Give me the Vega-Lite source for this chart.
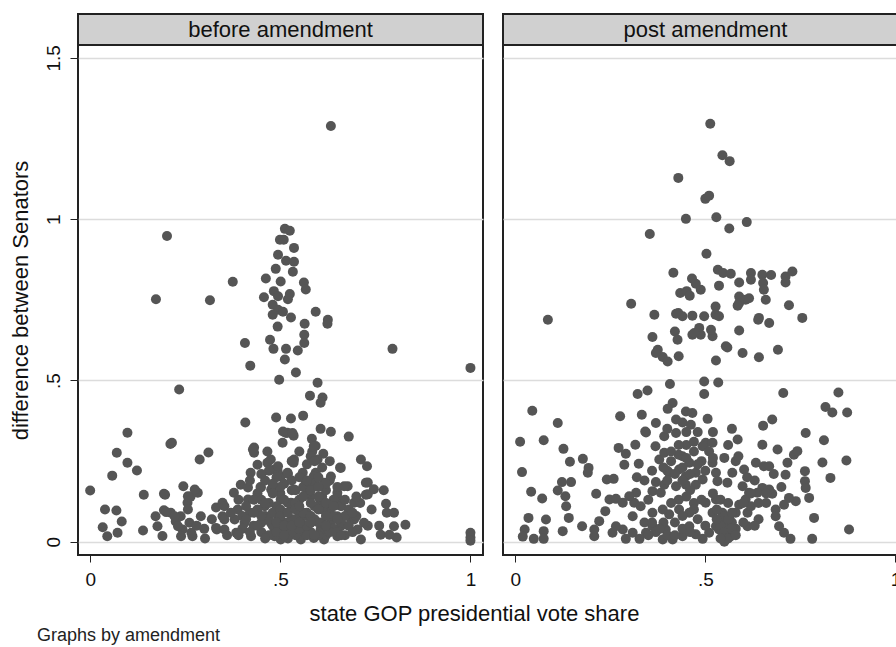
{
"$schema": "https://vega.github.io/schema/vega-lite/v6.json",
"background": "white",
"padding": {"left": 8, "top": 13, "right": 0, "bottom": 0},
"config": {"font": "Liberation Sans", "view": {"stroke": "#222", "strokeWidth": 2}, "concat": {"spacing": 18}},
"title": {"text": "Graphs by amendment", "orient": "bottom", "anchor": "start", "frame": "bounds", "fontSize": 18, "fontWeight": "normal", "font": "Liberation Sans", "color": "#222", "offset": 2, "dx": 29},
"datasets": {
"before": [
{"share":0.633,"diff":1.289},{"share":0.202,"diff":0.948},{"share":0.512,"diff":0.970},{"share":0.525,"diff":0.964},{"share":0.499,"diff":0.936},{"share":0.509,"diff":0.936},{"share":0.536,"diff":0.911},{"share":0.494,"diff":0.890},{"share":0.515,"diff":0.871},{"share":0.536,"diff":0.868},{"share":0.488,"diff":0.846},{"share":0.533,"diff":0.837},{"share":0.462,"diff":0.816},{"share":0.501,"diff":0.807},{"share":0.562,"diff":0.804},{"share":0.567,"diff":0.782},{"share":0.375,"diff":0.806},{"share":0.173,"diff":0.752},{"share":0.315,"diff":0.749},{"share":0.457,"diff":0.758},{"share":0.483,"diff":0.777},{"share":0.494,"diff":0.761},{"share":0.525,"diff":0.768},{"share":0.520,"diff":0.752},{"share":0.593,"diff":0.713},{"share":0.625,"diff":0.688},{"share":0.480,"diff":0.735},{"share":0.494,"diff":0.719},{"share":0.480,"diff":0.704},{"share":0.507,"diff":0.713},{"share":0.528,"diff":0.695},{"share":0.493,"diff":0.667},{"share":0.564,"diff":0.676},{"share":0.624,"diff":0.676},{"share":0.563,"diff":0.642},{"share":0.563,"diff":0.616},{"share":0.473,"diff":0.626},{"share":0.407,"diff":0.616},{"share":0.482,"diff":0.598},{"share":0.515,"diff":0.598},{"share":0.546,"diff":0.593},{"share":0.512,"diff":0.565},{"share":0.421,"diff":0.546},{"share":0.541,"diff":0.525},{"share":0.497,"diff":0.502},{"share":0.795,"diff":0.598},{"share":1.0,"diff":0.539},{"share":0.234,"diff":0.472},{"share":0.598,"diff":0.493},{"share":0.578,"diff":0.453},{"share":0.611,"diff":0.447},{"share":0.606,"diff":0.431},{"share":0.408,"diff":0.370},{"share":0.489,"diff":0.385},{"share":0.528,"diff":0.382},{"share":0.560,"diff":0.391},{"share":0.098,"diff":0.338},{"share":0.215,"diff":0.307},{"share":0.211,"diff":0.303},{"share":0.680,"diff":0.326},{"share":0.606,"diff":0.350},{"share":0.633,"diff":0.341},{"share":0.506,"diff":0.307},{"share":0.519,"diff":0.338},{"share":0.535,"diff":0.329},{"share":0.583,"diff":0.319},{"share":0.593,"diff":0.297},{"share":0.584,"diff":0.280},{"share":0.613,"diff":0.273},{"share":0.070,"diff":0.276},{"share":0.288,"diff":0.255},{"share":0.311,"diff":0.277},{"share":0.431,"diff":0.292},{"share":0.431,"diff":0.276},{"share":0.466,"diff":0.280},{"share":0.098,"diff":0.245},{"share":0.123,"diff":0.221},{"share":0.058,"diff":0.205},{"share":0.0,"diff":0.159},{"share":0.141,"diff":0.146},{"share":0.194,"diff":0.149},{"share":0.245,"diff":0.172},{"share":0.264,"diff":0.140},{"share":0.283,"diff":0.152},{"share":0.039,"diff":0.100},{"share":0.069,"diff":0.097},{"share":0.083,"diff":0.063},{"share":0.033,"diff":0.045},{"share":0.045,"diff":0.017},{"share":0.072,"diff":0.028},{"share":0.139,"diff":0.035},{"share":0.172,"diff":0.079},{"share":0.177,"diff":0.048},{"share":0.194,"diff":0.098},{"share":0.190,"diff":0.018},{"share":0.212,"diff":0.090},{"share":0.225,"diff":0.063},{"share":0.238,"diff":0.079},{"share":0.243,"diff":0.038},{"share":0.256,"diff":0.121},{"share":0.269,"diff":0.017},{"share":0.291,"diff":0.079},{"share":0.302,"diff":0.010},{"share":0.331,"diff":0.106},{"share":0.333,"diff":0.038},{"share":0.348,"diff":0.121},{"share":0.348,"diff":0.079},{"share":0.378,"diff":0.152},{"share":0.396,"diff":0.177},{"share":0.415,"diff":0.168},{"share":0.422,"diff":0.214},{"share":0.449,"diff":0.168},{"share":0.440,"diff":0.239},{"share":0.466,"diff":0.245},{"share":0.483,"diff":0.224},{"share":0.501,"diff":0.202},{"share":0.519,"diff":0.214},{"share":0.535,"diff":0.245},{"share":0.559,"diff":0.214},{"share":0.567,"diff":0.186},{"share":0.593,"diff":0.214},{"share":0.633,"diff":0.202},{"share":0.657,"diff":0.230},{"share":0.712,"diff":0.255},{"share":0.728,"diff":0.234},{"share":0.730,"diff":0.184},{"share":0.730,"diff":0.147},{"share":0.746,"diff":0.163},{"share":0.772,"diff":0.160},{"share":0.694,"diff":0.121},{"share":0.778,"diff":0.118},{"share":0.780,"diff":0.090},{"share":0.799,"diff":0.090},{"share":0.829,"diff":0.053},{"share":0.799,"diff":0.048},{"share":0.764,"diff":0.022},{"share":0.806,"diff":0.013},{"share":0.787,"diff":0.022},{"share":1.0,"diff":0.028},{"share":1.0,"diff":0.013},{"share":1.0,"diff":0.003},{"share":0.677,"diff":0.172},{"share":0.655,"diff":0.131},{"share":0.686,"diff":0.069},{"share":0.703,"diff":0.038},{"share":0.712,"diff":0.007},{"share":0.730,"diff":0.050},
{"share":0.515,"diff":0.337},{"share":0.532,"diff":0.337},{"share":0.588,"diff":0.296},{"share":0.580,"diff":0.265},{"share":0.598,"diff":0.255},{"share":0.475,"diff":0.255},{"share":0.536,"diff":0.255},{"share":0.659,"diff":0.229},{"share":0.493,"diff":0.219},{"share":0.588,"diff":0.203},{"share":0.615,"diff":0.183},{"share":0.668,"diff":0.172},{"share":0.725,"diff":0.183},{"share":0.725,"diff":0.146},{"share":0.484,"diff":0.172},{"share":0.536,"diff":0.162},{"share":0.563,"diff":0.172},{"share":0.650,"diff":0.152},{"share":0.580,"diff":0.141},{"share":0.606,"diff":0.121},{"share":0.650,"diff":0.115},{"share":0.694,"diff":0.069},{"share":0.720,"diff":0.059},{"share":0.659,"diff":0.048},{"share":0.633,"diff":0.059},{"share":0.606,"diff":0.038},{"share":0.580,"diff":0.059},{"share":0.563,"diff":0.079},{"share":0.545,"diff":0.100},{"share":0.528,"diff":0.121},{"share":0.501,"diff":0.131},{"share":0.493,"diff":0.090},{"share":0.510,"diff":0.059},{"share":0.536,"diff":0.038},{"share":0.484,"diff":0.028},{"share":0.501,"diff":0.007},{"share":0.554,"diff":0.007},{"share":0.588,"diff":0.012},{"share":0.615,"diff":0.007},{"share":0.650,"diff":0.017},{"share":0.563,"diff":0.028},{"share":0.475,"diff":0.059},{"share":0.650,"diff":0.079},{"share":0.628,"diff":0.100},
{"share":0.197,"diff":0.146},{"share":0.275,"diff":0.162},{"share":0.257,"diff":0.141},{"share":0.200,"diff":0.092},{"share":0.222,"diff":0.079},{"share":0.231,"diff":0.048},{"share":0.239,"diff":0.017},{"share":0.257,"diff":0.100},{"share":0.261,"diff":0.059},{"share":0.266,"diff":0.028},{"share":0.331,"diff":0.043},{"share":0.353,"diff":0.110},{"share":0.353,"diff":0.069},{"share":0.353,"diff":0.038},{"share":0.388,"diff":0.100},{"share":0.380,"diff":0.069},{"share":0.384,"diff":0.028},{"share":0.406,"diff":0.059},{"share":0.415,"diff":0.131},{"share":0.428,"diff":0.286},{"share":0.448,"diff":0.170},{"share":0.507,"diff":0.342},{"share":0.494,"diff":0.234},{"share":0.423,"diff":0.017},{"share":0.450,"diff":0.059},{"share":0.459,"diff":0.110},{"share":0.476,"diff":0.162},{"share":0.494,"diff":0.079},{"share":0.485,"diff":0.017},{"share":0.511,"diff":0.038},
{"share":0.44,"diff":0.10},{"share":0.46,"diff":0.08},{"share":0.47,"diff":0.12},{"share":0.48,"diff":0.05},{"share":0.49,"diff":0.11},{"share":0.50,"diff":0.15},{"share":0.51,"diff":0.09},{"share":0.52,"diff":0.06},{"share":0.53,"diff":0.11},{"share":0.54,"diff":0.02},{"share":0.55,"diff":0.13},{"share":0.56,"diff":0.05},{"share":0.57,"diff":0.09},{"share":0.58,"diff":0.03},{"share":0.59,"diff":0.11},{"share":0.60,"diff":0.06},{"share":0.61,"diff":0.14},{"share":0.62,"diff":0.02},{"share":0.63,"diff":0.09},{"share":0.64,"diff":0.04},{"share":0.66,"diff":0.11},{"share":0.67,"diff":0.02},{"share":0.45,"diff":0.03},{"share":0.47,"diff":0.02},{"share":0.52,"diff":0.01},{"share":0.55,"diff":0.08},{"share":0.57,"diff":0.15},{"share":0.51,"diff":0.18},{"share":0.53,"diff":0.16},{"share":0.48,"diff":0.15},{"share":0.46,"diff":0.19},{"share":0.44,"diff":0.15},{"share":0.42,"diff":0.09},{"share":0.40,"diff":0.04},{"share":0.41,"diff":0.11},{"share":0.43,"diff":0.05},{"share":0.50,"diff":0.04},{"share":0.52,"diff":0.12},{"share":0.54,"diff":0.07},{"share":0.56,"diff":0.17},{"share":0.58,"diff":0.12},{"share":0.60,"diff":0.20},{"share":0.62,"diff":0.16},{"share":0.64,"diff":0.13},{"share":0.66,"diff":0.06},{"share":0.68,"diff":0.10},{"share":0.70,"diff":0.08},{"share":0.49,"diff":0.20},{"share":0.55,"diff":0.20},{"share":0.59,"diff":0.18},{"share":0.61,"diff":0.10},{"share":0.63,"diff":0.19},{"share":0.65,"diff":0.17},{"share":0.57,"diff":0.24},{"share":0.53,"diff":0.25},{"share":0.61,"diff":0.23},{"share":0.63,"diff":0.25},{"share":0.45,"diff":0.13},{"share":0.43,"diff":0.13},{"share":0.47,"diff":0.07},{"share":0.49,"diff":0.03},{"share":0.51,"diff":0.13},{"share":0.53,"diff":0.03},{"share":0.55,"diff":0.04},{"share":0.57,"diff":0.02},{"share":0.59,"diff":0.07},{"share":0.60,"diff":0.02},{"share":0.62,"diff":0.12},{"share":0.64,"diff":0.08},{"share":0.65,"diff":0.03},{"share":0.67,"diff":0.08},{"share":0.69,"diff":0.03},{"share":0.71,"diff":0.12},{"share":0.36,"diff":0.02},{"share":0.37,"diff":0.09},{"share":0.39,"diff":0.13},{"share":0.32,"diff":0.07},{"share":0.30,"diff":0.04},{"share":0.28,"diff":0.05},{"share":0.70,"diff":0.14},{"share":0.74,"diff":0.10},{"share":0.76,"diff":0.05},{"share":0.52,"diff":0.21},{"share":0.47,"diff":0.22},{"share":0.58,"diff":0.18},{"share":0.55,"diff":0.28},{"share":0.59,"diff":0.25},{"share":0.45,"diff":0.21},{"share":0.42,"diff":0.19},
{"share":0.46,"diff":0.01},{"share":0.48,"diff":0.09},{"share":0.50,"diff":0.10},{"share":0.51,"diff":0.02},{"share":0.53,"diff":0.07},{"share":0.54,"diff":0.12},{"share":0.56,"diff":0.09},{"share":0.57,"diff":0.05},{"share":0.58,"diff":0.08},{"share":0.59,"diff":0.02},{"share":0.60,"diff":0.10},{"share":0.61,"diff":0.06},{"share":0.62,"diff":0.08},{"share":0.63,"diff":0.03},{"share":0.64,"diff":0.11},{"share":0.65,"diff":0.07},{"share":0.66,"diff":0.02},{"share":0.67,"diff":0.13},{"share":0.68,"diff":0.05},{"share":0.69,"diff":0.09},{"share":0.44,"diff":0.05},{"share":0.45,"diff":0.08},{"share":0.46,"diff":0.12},{"share":0.43,"diff":0.09},{"share":0.42,"diff":0.03},{"share":0.50,"diff":0.08},{"share":0.52,"diff":0.09},{"share":0.54,"diff":0.10},{"share":0.55,"diff":0.11},{"share":0.56,"diff":0.14},{"share":0.58,"diff":0.16},{"share":0.60,"diff":0.14},{"share":0.62,"diff":0.18},{"share":0.60,"diff":0.17},{"share":0.57,"diff":0.19},{"share":0.53,"diff":0.19},{"share":0.50,"diff":0.17},{"share":0.48,"diff":0.18},{"share":0.54,"diff":0.16},{"share":0.49,"diff":0.06},{"share":0.51,"diff":0.05},{"share":0.53,"diff":0.05},{"share":0.55,"diff":0.06},{"share":0.58,"diff":0.06},{"share":0.62,"diff":0.05},{"share":0.40,"diff":0.08},{"share":0.39,"diff":0.02},{"share":0.41,"diff":0.07}
],
"post": [
{"share":0.513,"diff":1.296},{"share":0.545,"diff":1.198},{"share":0.564,"diff":1.180},{"share":0.429,"diff":1.128},{"share":0.500,"diff":1.063},{"share":0.510,"diff":1.073},{"share":0.449,"diff":1.001},{"share":0.529,"diff":1.006},{"share":0.563,"diff":0.971},{"share":0.609,"diff":0.991},{"share":0.354,"diff":0.954},{"share":0.503,"diff":0.893},{"share":0.416,"diff":0.834},{"share":0.465,"diff":0.816},{"share":0.475,"diff":0.800},{"share":0.488,"diff":0.781},{"share":0.434,"diff":0.771},{"share":0.451,"diff":0.777},{"share":0.459,"diff":0.763},{"share":0.533,"diff":0.843},{"share":0.547,"diff":0.833},{"share":0.567,"diff":0.831},{"share":0.589,"diff":0.804},{"share":0.536,"diff":0.794},{"share":0.620,"diff":0.833},{"share":0.620,"diff":0.812},{"share":0.650,"diff":0.828},{"share":0.673,"diff":0.827},{"share":0.652,"diff":0.802},{"share":0.654,"diff":0.781},{"share":0.711,"diff":0.822},{"share":0.729,"diff":0.838},{"share":0.711,"diff":0.804},{"share":0.589,"diff":0.760},{"share":0.606,"diff":0.750},{"share":0.589,"diff":0.740},{"share":0.659,"diff":0.750},{"share":0.720,"diff":0.733},{"share":0.305,"diff":0.738},{"share":0.527,"diff":0.729},{"share":0.429,"diff":0.709},{"share":0.466,"diff":0.701},{"share":0.497,"diff":0.699},{"share":0.527,"diff":0.704},{"share":0.366,"diff":0.704},{"share":0.641,"diff":0.694},{"share":0.755,"diff":0.694},{"share":0.086,"diff":0.688},{"share":0.361,"diff":0.635},{"share":0.375,"diff":0.595},{"share":0.388,"diff":0.573},{"share":0.401,"diff":0.559},{"share":0.430,"diff":0.575},{"share":0.420,"diff":0.652},{"share":0.427,"diff":0.626},{"share":0.440,"diff":0.699},{"share":0.466,"diff":0.642},{"share":0.484,"diff":0.663},{"share":0.488,"diff":0.642},{"share":0.519,"diff":0.637},{"share":0.515,"diff":0.657},{"share":0.536,"diff":0.699},{"share":0.554,"diff":0.606},{"share":0.528,"diff":0.562},{"share":0.589,"diff":0.655},{"share":0.598,"diff":0.585},{"share":0.641,"diff":0.572},{"share":0.691,"diff":0.595},{"share":0.639,"diff":0.688},{"share":0.668,"diff":0.678},{"share":0.615,"diff":0.755},{"share":0.585,"diff":0.732},{"share":0.497,"diff":0.497},{"share":0.534,"diff":0.494},{"share":0.407,"diff":0.489},{"share":0.348,"diff":0.469},{"share":0.322,"diff":0.458},{"share":0.497,"diff":0.458},{"share":0.705,"diff":0.461},{"share":0.423,"diff":0.707},{"share":0.471,"diff":0.647},{"share":0.558,"diff":0.602},{"share":0.370,"diff":0.585},
{"share":0.850,"diff":0.463},{"share":0.816,"diff":0.418},{"share":0.834,"diff":0.401},{"share":0.873,"diff":0.401},{"share":0.045,"diff":0.406},{"share":0.276,"diff":0.389},{"share":0.333,"diff":0.394},{"share":0.414,"diff":0.430},{"share":0.401,"diff":0.412},{"share":0.423,"diff":0.379},{"share":0.449,"diff":0.404},{"share":0.466,"diff":0.399},{"share":0.440,"diff":0.370},{"share":0.462,"diff":0.363},{"share":0.370,"diff":0.368},{"share":0.344,"diff":0.339},{"share":0.506,"diff":0.381},{"share":0.112,"diff":0.368},{"share":0.013,"diff":0.310},{"share":0.075,"diff":0.315},{"share":0.127,"diff":0.288},{"share":0.144,"diff":0.248},{"share":0.178,"diff":0.257},{"share":0.193,"diff":0.229},{"share":0.191,"diff":0.214},{"share":0.018,"diff":0.216},{"share":0.042,"diff":0.155},{"share":0.071,"diff":0.134},{"share":0.112,"diff":0.159},{"share":0.123,"diff":0.185},{"share":0.147,"diff":0.185},{"share":0.132,"diff":0.141},{"share":0.134,"diff":0.110},{"share":0.141,"diff":0.074},{"share":0.125,"diff":0.033},{"share":0.081,"diff":0.069},{"share":0.075,"diff":0.033},{"share":0.075,"diff":0.009},{"share":0.035,"diff":0.074},{"share":0.025,"diff":0.038},{"share":0.020,"diff":0.016},{"share":0.049,"diff":0.009},{"share":0.176,"diff":0.048},{"share":0.208,"diff":0.017},{"share":0.208,"diff":0.038},{"share":0.213,"diff":0.149},{"share":0.221,"diff":0.064},{"share":0.237,"diff":0.095},{"share":0.248,"diff":0.131},{"share":0.265,"diff":0.133},{"share":0.241,"diff":0.193},{"share":0.259,"diff":0.195},{"share":0.272,"diff":0.291},{"share":0.291,"diff":0.273},{"share":0.287,"diff":0.239},{"share":0.316,"diff":0.301},{"share":0.325,"diff":0.242},{"share":0.342,"diff":0.342},{"share":0.369,"diff":0.296},{"share":0.379,"diff":0.255},{"share":0.392,"diff":0.276},{"share":0.392,"diff":0.327},{"share":0.423,"diff":0.337},{"share":0.440,"diff":0.265},{"share":0.458,"diff":0.245},{"share":0.475,"diff":0.214},{"share":0.449,"diff":0.203},{"share":0.431,"diff":0.224},{"share":0.405,"diff":0.214},{"share":0.392,"diff":0.177},{"share":0.370,"diff":0.185},{"share":0.361,"diff":0.157},{"share":0.383,"diff":0.152},{"share":0.423,"diff":0.172},{"share":0.449,"diff":0.177},{"share":0.475,"diff":0.177},{"share":0.493,"diff":0.193},{"share":0.519,"diff":0.245},{"share":0.528,"diff":0.214},{"share":0.501,"diff":0.307},{"share":0.519,"diff":0.307},{"share":0.493,"diff":0.296},{"share":0.532,"diff":0.188},{"share":0.558,"diff":0.183},{"share":0.571,"diff":0.214},{"share":0.580,"diff":0.250},{"share":0.585,"diff":0.317},{"share":0.587,"diff":0.265},{"share":0.602,"diff":0.224},{"share":0.633,"diff":0.245},{"share":0.654,"diff":0.234},{"share":0.668,"diff":0.234},{"share":0.650,"diff":0.301},{"share":0.652,"diff":0.360},{"share":0.676,"diff":0.379},{"share":0.690,"diff":0.286},{"share":0.711,"diff":0.208},{"share":0.716,"diff":0.245},{"share":0.733,"diff":0.270},{"share":0.742,"diff":0.281},{"share":0.764,"diff":0.337},{"share":0.812,"diff":0.315},{"share":0.808,"diff":0.246},{"share":0.871,"diff":0.252},{"share":0.829,"diff":0.198},{"share":0.762,"diff":0.219},{"share":0.762,"diff":0.188},{"share":0.764,"diff":0.167},{"share":0.773,"diff":0.136},{"share":0.738,"diff":0.126},{"share":0.720,"diff":0.136},{"share":0.707,"diff":0.115},{"share":0.685,"diff":0.100},{"share":0.676,"diff":0.149},{"share":0.668,"diff":0.162},{"share":0.650,"diff":0.167},{"share":0.637,"diff":0.152},{"share":0.615,"diff":0.152},{"share":0.606,"diff":0.131},{"share":0.598,"diff":0.172},{"share":0.589,"diff":0.115},{"share":0.611,"diff":0.090},{"share":0.611,"diff":0.048},{"share":0.580,"diff":0.090},{"share":0.563,"diff":0.074},{"share":0.545,"diff":0.090},{"share":0.554,"diff":0.028},{"share":0.545,"diff":0.012},{"share":0.567,"diff":0.017},{"share":0.536,"diff":0.038},{"share":0.685,"diff":0.079},{"share":0.694,"diff":0.048},{"share":0.707,"diff":0.028},{"share":0.724,"diff":0.009},{"share":0.781,"diff":0.009},{"share":0.786,"diff":0.074},{"share":0.878,"diff":0.038},{"share":0.458,"diff":0.090},{"share":0.458,"diff":0.048},{"share":0.493,"diff":0.009},{"share":0.475,"diff":0.023},{"share":0.440,"diff":0.017},{"share":0.414,"diff":0.007},{"share":0.388,"diff":0.007},{"share":0.396,"diff":0.038},{"share":0.405,"diff":0.085},{"share":0.431,"diff":0.100},{"share":0.388,"diff":0.100},{"share":0.361,"diff":0.090},{"share":0.361,"diff":0.048},{"share":0.344,"diff":0.028},{"share":0.327,"diff":0.009},{"share":0.309,"diff":0.028},{"share":0.291,"diff":0.009},{"share":0.283,"diff":0.038},{"share":0.265,"diff":0.048},{"share":0.256,"diff":0.028},{"share":0.313,"diff":0.121},{"share":0.309,"diff":0.079},{"share":0.318,"diff":0.152},{"share":0.300,"diff":0.141},{"share":0.283,"diff":0.121},{"share":0.528,"diff":0.131},{"share":0.519,"diff":0.090},{"share":0.501,"diff":0.121},{"share":0.528,"diff":0.048},{"share":0.510,"diff":0.028},
{"share":0.55,"diff":0.06},{"share":0.56,"diff":0.045},{"share":0.57,"diff":0.06},{"share":0.55,"diff":0.0},{"share":0.56,"diff":0.03},{"share":0.58,"diff":0.04},{"share":0.60,"diff":0.06},{"share":0.47,"diff":0.12},{"share":0.45,"diff":0.14},{"share":0.43,"diff":0.13},{"share":0.41,"diff":0.12},{"share":0.39,"diff":0.06},{"share":0.37,"diff":0.03},{"share":0.34,"diff":0.06},{"share":0.33,"diff":0.11},{"share":0.35,"diff":0.13},{"share":0.42,"diff":0.06},{"share":0.44,"diff":0.08},{"share":0.48,"diff":0.07},{"share":0.50,"diff":0.05},{"share":0.52,"diff":0.15},{"share":0.54,"diff":0.13},{"share":0.56,"diff":0.12},{"share":0.62,"diff":0.11},{"share":0.64,"diff":0.07},{"share":0.66,"diff":0.12},{"share":0.49,"diff":0.25},{"share":0.47,"diff":0.28},{"share":0.45,"diff":0.30},{"share":0.43,"diff":0.27},{"share":0.41,"diff":0.25},{"share":0.40,"diff":0.22},{"share":0.55,"diff":0.26},{"share":0.56,"diff":0.30},{"share":0.61,"diff":0.20},{"share":0.63,"diff":0.19},{"share":0.70,"diff":0.17},{"share":0.68,"diff":0.21},{"share":0.52,"diff":0.34},{"share":0.48,"diff":0.34},{"share":0.45,"diff":0.34},{"share":0.40,"diff":0.35},{"share":0.57,"diff":0.35},{"share":0.36,"diff":0.22},{"share":0.34,"diff":0.19},{"share":0.32,"diff":0.20},
{"share":0.54,"diff":0.05},{"share":0.55,"diff":0.03},{"share":0.56,"diff":0.01},{"share":0.57,"diff":0.04},{"share":0.55,"diff":0.08},{"share":0.56,"diff":0.07},{"share":0.54,"diff":0.01},{"share":0.57,"diff":0.09},{"share":0.53,"diff":0.07},{"share":0.58,"diff":0.02},{"share":0.53,"diff":0.10},{"share":0.40,"diff":0.02},{"share":0.42,"diff":0.02},{"share":0.38,"diff":0.04},{"share":0.36,"diff":0.06},{"share":0.35,"diff":0.02},{"share":0.44,"diff":0.04},{"share":0.46,"diff":0.03},{"share":0.47,"diff":0.10},{"share":0.49,"diff":0.13},{"share":0.46,"diff":0.16},{"share":0.44,"diff":0.19},{"share":0.46,"diff":0.21},{"share":0.48,"diff":0.24},{"share":0.44,"diff":0.23},{"share":0.42,"diff":0.21},{"share":0.40,"diff":0.19},{"share":0.39,"diff":0.23},{"share":0.50,"diff":0.22},{"share":0.51,"diff":0.28},{"share":0.47,"diff":0.31},{"share":0.43,"diff":0.30},{"share":0.41,"diff":0.28},{"share":0.52,"diff":0.26},{"share":0.45,"diff":0.26},{"share":0.60,"diff":0.12},{"share":0.62,"diff":0.15},{"share":0.64,"diff":0.12},{"share":0.66,"diff":0.15},{"share":0.63,"diff":0.05}
]
},
"vconcat": [
{
"title": {"text": "state GOP presidential vote share", "orient": "bottom", "anchor": "middle", "frame": "bounds", "fontSize": 22, "fontWeight": "normal", "font": "Liberation Sans", "color": "#111", "offset": 14, "dx": 16},
"spacing": 18,
"hconcat": [
{"spacing": 0, "bounds": "flush", "vconcat": [
 {"width": 405, "height": 31, "data": {"values": [{"panel": "before amendment"}]}, "view": {"fill": "#d0d0d0", "stroke": "#222", "strokeWidth": 2}, "mark": {"type": "text", "fontSize": 22, "color": "#111", "font": "Liberation Sans"}, "encoding": {"text": {"field": "panel", "type": "nominal"}}},
 {"width": 405, "height": 510, "data": {"name": "before"}, "mark": {"type": "circle", "size": 100, "color": "#555555", "opacity": 1},
  "encoding": {
   "x": {"field": "share", "type": "quantitative", "scale": {"domain": [-0.032, 1.033], "nice": false, "zero": false},
    "axis": {"values": [0, 0.5, 1], "labelExpr": "datum.value == 0.5 ? '.5' : format(datum.value, '~g')", "grid": false, "domain": false, "tickSize": 7, "tickColor": "#222", "labelFontSize": 19, "labelColor": "#111", "labelPadding": 8, "title": null}},
   "y": {"field": "diff", "type": "quantitative", "scale": {"domain": [-0.041, 1.54], "nice": false, "zero": false},
    "axis": {"values": [0, 0.5, 1, 1.5], "labelExpr": "datum.value == 0.5 ? '.5' : format(datum.value, '~g')", "grid": true, "gridColor": "#dcdcdc", "gridWidth": 1.5, "domain": false, "tickSize": 8, "tickColor": "#222", "labelFontSize": 19, "labelColor": "#111", "labelAngle": -90, "labelAlign": "center", "labelBaseline": "bottom", "labelPadding": 7, "title": "difference between Senators", "titleFontSize": 22, "titleFontWeight": "normal", "titleColor": "#111", "titlePadding": 12}}
  }}
]},
{"spacing": 0, "bounds": "flush", "vconcat": [
 {"width": 405, "height": 31, "data": {"values": [{"panel": "post amendment"}]}, "view": {"fill": "#d0d0d0", "stroke": "#222", "strokeWidth": 2}, "mark": {"type": "text", "fontSize": 22, "color": "#111", "font": "Liberation Sans"}, "encoding": {"text": {"field": "panel", "type": "nominal"}}},
 {"width": 405, "height": 510, "data": {"name": "post"}, "mark": {"type": "circle", "size": 100, "color": "#555555", "opacity": 1},
  "encoding": {
   "x": {"field": "share", "type": "quantitative", "scale": {"domain": [-0.032, 1.033], "nice": false, "zero": false},
    "axis": {"values": [0, 0.5, 1], "labelExpr": "datum.value == 0.5 ? '.5' : format(datum.value, '~g')", "grid": false, "domain": false, "tickSize": 7, "tickColor": "#222", "labelFontSize": 19, "labelColor": "#111", "labelPadding": 8, "title": null}},
   "y": {"field": "diff", "type": "quantitative", "scale": {"domain": [-0.041, 1.54], "nice": false, "zero": false},
    "axis": {"values": [0, 0.5, 1, 1.5], "grid": true, "gridColor": "#dcdcdc", "gridWidth": 1.5, "domain": false, "ticks": false, "labels": false, "title": null}}
  }}
]}
]
}
]
}
